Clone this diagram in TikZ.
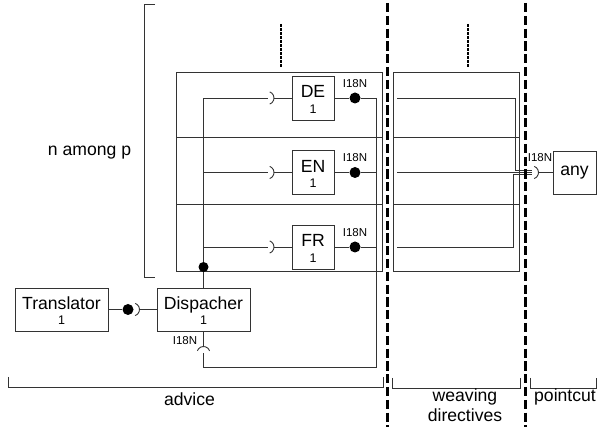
\documentclass[tikz,border=0pt]{standalone}
\usepackage{fontspec}
\setmainfont{Liberation Sans}

\begin{document}
\begin{tikzpicture}[x=1pt,y=-1pt,line width=0.9pt,draw=black!80,
  big/.style={font=\fontsize{17.6}{20}\selectfont,text height=12.7pt,text depth=3.6pt,inner sep=0pt},
  small/.style={font=\fontsize{11.5}{12}\selectfont,inner sep=0pt},
  box/.style={draw,inner sep=0pt,minimum height=43pt},
  comp/.style={box,label={[big,yshift=5pt]center:#1},label={[small,font=\fontsize{12.5}{13}\selectfont,yshift=-11pt]center:1}},
  ball/.style={circle,fill,inner sep=0pt,minimum size=11pt},
  sep/.style={draw=black,line width=3pt,dash pattern=on 9.3pt off 3.5pt},
  more/.style={draw=black,line width=2.7pt,dash pattern=on 2.7pt off 1.3pt}]
\useasboundingbox (0,0) rectangle (597,427);

% n among p bracket
\draw (155,4) -- (144,4) -- (144,277) -- (155,277);
\node[big] (nap) at (89.5,150.5) {n among p};

% advice rows and weaving rows
\draw (176,72) rectangle (382,271);
\draw (176,137) -- (382,137);
\draw (176,204) -- (382,204);
\draw (393,72) rectangle (519,271);
\draw (393,137) -- (519,137);
\draw (393,204) -- (519,204);
\draw[more] (281,24) -- (281,67);
\draw[more] (468,24) -- (468,67);

% components
\node[comp=Translator,minimum width=93pt] (tr) at (61.5,309.5) {};
\node[comp=Dispacher,minimum width=93pt] (disp) at (203.5,309.5) {};
\node[comp=DE,minimum width=42pt,minimum height=44pt] (de) at (313,98) {};
\node[comp=EN,minimum width=42pt,minimum height=44pt] (en) at (313,172.5) {};
\node[comp=FR,minimum width=42pt,minimum height=44pt] (fr) at (313,247) {};
\node[box,minimum width=43pt,label={[big,yshift=2pt]center:any}] (any) at (574.5,172.5) {};

% balls
\node[ball] (bTr) at (128,309.5) {};
\node[ball] (bDE) at (355,98) {};
\node[ball] (bEN) at (355,172.5) {};
\node[ball] (bFR) at (355,247) {};
\node[ball,minimum size=10pt] (jn) at (203.5,267) {};

% sockets
\coordinate (sTr) at (133,309.5);
\coordinate (sDE) at (267.5,98);
\coordinate (sEN) at (267.5,172.5);
\coordinate (sFR) at (267.5,247);
\coordinate (sDi) at (203.5,353);
\coordinate (sAny) at (532,172.5);
\draw ([shift={(70:6.5pt)}]sTr) arc[start angle=70,end angle=-70,radius=6.5pt];
\draw ([shift={(70:6.5pt)}]sDE) arc[start angle=70,end angle=-70,radius=6.5pt];
\draw ([shift={(70:6.5pt)}]sEN) arc[start angle=70,end angle=-70,radius=6.5pt];
\draw ([shift={(70:6.5pt)}]sFR) arc[start angle=70,end angle=-70,radius=6.5pt];
\draw ([shift={(70:6.5pt)}]sAny) arc[start angle=70,end angle=-70,radius=6.5pt];
\draw ([shift={(160:6.5pt)}]sDi) arc[start angle=160,end angle=20,radius=6.5pt];

% I18N labels
\node[small] (iDE) at (355,83.5) {I18N};
\node[small] (iEN) at (355,158) {I18N};
\node[small] (iFR) at (355,232.5) {I18N};
\node[small] (iDi) at (185,341) {I18N};
\node[small] (iAny) at (540,158) {I18N};

% bus coordinates
\coordinate (busDE) at (203.5,98);
\coordinate (busEN) at (203.5,172.5);
\coordinate (busFR) at (203.5,247);
\coordinate (rDE) at (376,98);
\coordinate (rEN) at (376,172.5);
\coordinate (rFR) at (376,247);
\coordinate (rbot) at (376,367);
\coordinate (lbot) at (203.5,367);
\coordinate (wDE) at (397,98);
\coordinate (wEN) at (397,172.5);
\coordinate (wFR) at (397,247);
\coordinate (kDE) at (515,98);
\coordinate (kFR) at (513,247);

% connectors
\draw (tr.east) -- (bTr);
\draw ([xshift=6.5pt]sTr) -- (disp.west);
\draw (disp.north) -- (jn) -- (busDE);
\draw (busDE) -- (sDE);
\draw (busEN) -- (sEN);
\draw (busFR) -- (sFR);
\draw ([xshift=6.5pt]sDE) -- (de.west);
\draw ([xshift=6.5pt]sEN) -- (en.west);
\draw ([xshift=6.5pt]sFR) -- (fr.west);
\draw (de.east) -- (bDE) -- (rDE);
\draw (en.east) -- (bEN) -- (rEN);
\draw (fr.east) -- (bFR) -- (rFR);
\draw (rDE) -- (rbot) -- (lbot) -- (sDi);
\draw (disp.south) -- ([yshift=6.5pt]sDi);
\draw (wDE) -- (kDE) |- ([yshift=2pt]sAny);
\draw (wEN) -- (sAny);
\draw (wFR) -- (kFR) |- ([yshift=-2pt]sAny);
\draw ([xshift=6.5pt]sAny) -- (any.west);

% separators
\draw[sep] (387,3) -- (387,427);
\draw[sep] (525,3) -- (525,427);

% bottom brackets
\draw (8,377) -- (8,387) -- (383,387) -- (383,377);
\draw (392,378) -- (392,388) -- (520,388) -- (520,378);
\draw (530,378) -- (530,388) -- (596,388) -- (596,378);
\node[big] (adv) at (189.5,400.5) {advice};
\node[font=\fontsize{17.6}{20}\selectfont,align=center,inner sep=0pt] (wd) at (465,405.4) {weaving\\directives};
\node[big] (pc) at (565,397.2) {pointcut};
\end{tikzpicture}
\end{document}
